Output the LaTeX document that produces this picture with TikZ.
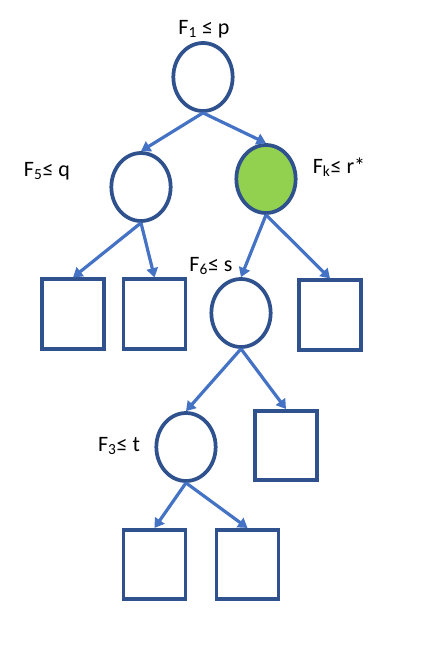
\documentclass[tikz,border=0pt]{standalone}
\usepackage{fontspec}
\setmainfont{Carlito}
\usetikzlibrary{shapes.geometric,arrows.meta}
\definecolor{rim}{RGB}{47,82,143}
\definecolor{edge}{RGB}{68,114,196}
\definecolor{leafgreen}{RGB}{146,208,80}
\begin{document}
\begin{tikzpicture}[x=0.75pt,y=-0.75pt]
\tikzstyle{test}=[draw=rim,line width=2.8pt,shape=ellipse,minimum width=44.5pt,minimum height=51pt,inner sep=0pt,fill=white]
\tikzstyle{leaf}=[draw=rim,line width=2.8pt,shape=rectangle,minimum width=46.5pt,minimum height=52pt,inner sep=0pt]
\tikzstyle{lbl}=[anchor=base,inner sep=0pt,font=\fontsize{16.5}{19}\selectfont]
\tikzstyle{arc}=[draw=edge,line width=2.4pt,-{Triangle[length=7pt,width=8.5pt]}]
\useasboundingbox (0,0) rectangle (445,657);

\path (203,77) node[test](root){} (141,187) node[test](nq){} (266,179) node[test,fill=leafgreen](nr){};
\path (241,313) node[test](ns){} (186,447) node[test](nt){};
\path (73,314) node[leaf](l1){} (154.5,314) node[leaf](l2){} (330,315) node[leaf](l3){};
\path (286,445.5) node[leaf](l4){} (154.5,564.5) node[leaf](l5){} (247.5,564.5) node[leaf](l6){};

\node[lbl] (root label) at (204,34) {F\textsubscript{1} ≤ p};
\node[lbl] (nq label) at (47,176) {F\textsubscript{5}≤ q};
\node[lbl] (nr label) at (339,173) {F\textsubscript{k}≤ r*};
\node[lbl] (ns label) at (211,271) {F\textsubscript{6}≤ s};
\node[lbl] (nt label) at (119,451) {F\textsubscript{3}≤ t};

\draw[arc] (root.south) -- (nq.north);
\draw[arc] (root.south) -- (nr.north);
\draw[arc] (nq.south) -- (l1.north);
\draw[arc] (nq.south) -- (l2.north);
\draw[arc] (nr.south) -- (ns.north);
\draw[arc] (nr.south) -- (l3.north);
\draw[arc] (ns.south) -- (nt.north);
\draw[arc] (ns.south) -- (l4.north);
\draw[arc] (nt.south) -- (l5.north);
\draw[arc] (nt.south) -- (l6.north);
\end{tikzpicture}
\end{document}
